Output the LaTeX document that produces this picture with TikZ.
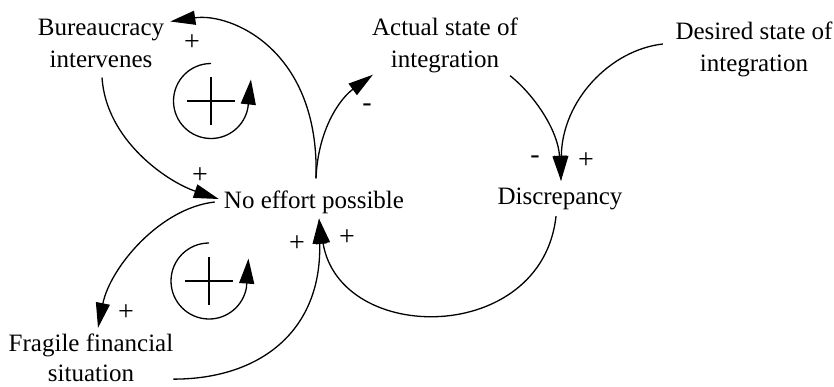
\documentclass[tikz,border=0pt]{standalone}
\usepackage{fontspec}
\setmainfont{Liberation Serif}
\usetikzlibrary{arrows.meta}

\begin{document}
\begin{tikzpicture}[x=1pt, y=-1pt,
    var/.style={font=\fontsize{25}{32}\selectfont, align=center, inner sep=0pt},
    sign/.style={font=\fontsize{28}{28}\selectfont, inner sep=0pt},
    link/.style={->, line width=1.3pt, >={Triangle[length=25pt,width=14pt]}},
    loopsym/.style={->, line width=1.3pt, >={Triangle[length=25pt,width=15pt]}},
    cross/.style={line width=2.7pt}
]
    \useasboundingbox (0,0) rectangle (834,386);

    % variables
    \node[var] (bur) at (101,43) {Bureaucracy\\intervenes};
    \node[var] (act) at (445,45) {Actual state of\\integration};
    \node[var] (des) at (754,49) {Desired state of\\integration};
    \node[var] (noeff) at (314,202) {No effort possible};
    \node[var] (disc) at (560,199) {Discrepancy};
    \node[var, font=\fontsize{25}{30}\selectfont] (frag) at (91,358) {Fragile financial\\situation};

    % causal links
    \draw[link] ([shift={(1,10)}]bur.south) .. controls +(4,63) and +(-51,-17) .. ([shift={(-5,-3)}]noeff.west);
    \draw[link] ([shift={(2,-12)}]noeff.north) .. controls +(4,-129) and +(60,-9) .. ([shift={(6,3)}]bur.north east);
    \draw[link] ([shift={(2,-12)}]noeff.north) .. controls +(2,-49) and +(-33,24) .. ([shift={(1,2)}]act.south west);
    \draw[link] ([shift={(-8,3)}]act.south east) .. controls +(25,20) and +(-3,-50) .. ([shift={(1,-7)}]disc.north);
    \draw[link] ([shift={(-12.5,-5)}]des.west) .. controls +(-53,6) and +(1,-80) .. ([shift={(1,-7)}]disc.north);
    \draw[link] ([shift={(-4,6)}]disc.south) .. controls +(-14,129) and +(21,127) .. ([shift={(5,5)}]noeff.south);
    \draw[link] ([shift={(0,-3)}]frag.south east) .. controls +(87,0) and +(3,112) .. ([shift={(5,5)}]noeff.south);
    \draw[link] ([shift={(-9,0)}]noeff.west) .. controls +(-55,6) and +(12,-60) .. ([shift={(7,-6)}]frag.north);

    % polarities
    \node[sign] (p1) at (200,176) {+};
    \node[sign] (p2) at (192,43) {+};
    \node[sign] (m3) at (367,108) {-};
    \node[sign] (m4) at (535,160) {-};
    \node[sign] (p5) at (586,161) {+};
    \node[sign] (p6) at (347,238) {+};
    \node[sign] (p7) at (297,244) {+};
    \node[sign] (p8) at (126,313) {+};

    % loop markers
    \coordinate (r1) at (211,101);
    \coordinate (r2) at (209,281);
    \draw[cross] (r1) ++(-24,0) -- ++(48,0) (r1) ++(0,-24) -- ++(0,48);
    \draw[cross] (r2) ++(-24,0) -- ++(48,0) (r2) ++(0,-24) -- ++(0,48);
    \draw[loopsym] (r1) ++(0,-37.5) arc[start angle=270, end angle=10, radius=37.5] -- ++(3,-28);
    \draw[loopsym] (r2) ++(0,-38) arc[start angle=270, end angle=10, radius=38] -- ++(2,-29);
\end{tikzpicture}
\end{document}
